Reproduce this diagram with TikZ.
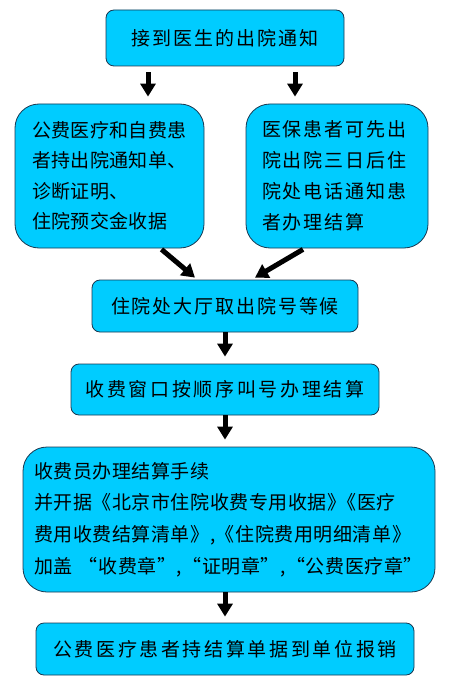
\documentclass[tikz,border=0pt]{standalone}
\usepackage{fontspec}
\usetikzlibrary{arrows.meta,calc}
\newfontfamily\cjkA[LetterSpace=10]{Noto Sans CJK SC}
\newfontfamily\cjkB[LetterSpace=2]{Noto Sans CJK SC}
\newfontfamily\cjkD[LetterSpace=3]{Noto Sans CJK SC}
\newfontfamily\cjkC[LetterSpace=14]{Noto Sans CJK SC}
\definecolor{boxfill}{RGB}{0,204,255}
\definecolor{boxline}{RGB}{25,55,80}
\tikzset{
  flowbox/.style={draw=boxline, fill=boxfill, line width=0.8pt, rounded corners=8pt, inner sep=0pt, text=black},
  bigbox/.style={flowbox, rounded corners=24pt, align=left, text width=#1},
  arr/.style={draw=black, line width=5pt, -{Triangle[length=13pt,width=15pt]}},
}
\begin{document}
\begin{tikzpicture}[x=1pt,y=-1pt]
\useasboundingbox (0,0) rectangle (448,687);
\node[flowbox, minimum width=238pt, minimum height=56pt, font=\cjkA\fontsize{19}{22}\selectfont] (n1) at (225,38) {接到医生的出院通知};
\node[bigbox=155pt, minimum width=189pt, minimum height=144pt, font=\cjkB\fontsize{19}{30.5}\selectfont] (n2L) at (109.5,176) {公费医疗和自费患\\者持出院通知单、\\诊断证明、\\住院预交金收据};
\node[bigbox=150pt, minimum width=182pt, minimum height=144pt, font=\cjkA\fontsize{19}{31}\selectfont] (n2R) at (337,176) {医保患者可先出\\院出院三日后住\\院处电话通知患\\者办理结算};
\node[flowbox, minimum width=266pt, minimum height=52pt, font=\cjkA\fontsize{19}{22}\selectfont] (n3) at (225,306) {住院处大厅取出院号等候};
\node[flowbox, minimum width=308pt, minimum height=51pt, font=\cjkC\fontsize{19}{22}\selectfont] (n4) at (225,389.5) {收费窗口按顺序叫号办理结算};
\node[bigbox=390pt, minimum width=412pt, minimum height=145pt, font=\cjkD\fontsize{19}{31.7}\selectfont] (n5) at (229,519.5) {收费员办理结算手续\\\mbox{并开据《北京市住院收费专用收据》\hspace{-9pt}《医疗}\\费用收费结算清单》,《住院费用明细清单》\\\mbox{加盖 “收费章”,“证明章”,“公费医疗章”}};
\node[flowbox, minimum width=378pt, minimum height=52pt, font=\cjkC\fontsize{19}{22}\selectfont] (n6) at (225,649) {公费医疗患者持结算单据到单位报销};
% connectors
\draw[arr] ($(n1.south)+(-77,6)$) -- ($(n2L.north)+(38.5,-7)$);
\draw[arr] ($(n1.south)+(70,6)$) -- ($(n2R.north)+(-42,-7)$);
\draw[arr] ($(n2L.south)+(52,1)$) -- ($(n3.north)+(-30,-2)$);
\draw[arr] ($(n2R.south)+(-34,1)$) -- ($(n3.north)+(30,-2)$);
\draw[arr] (n3.south) -- ($(n4.north)+(0,-7)$);
\draw[arr] (n4.south) -- ($(n4.south |- n5.north)+(0,-7)$);
\draw[arr] (n6.north |- n5.south) -- ($(n6.north)+(0,-6)$);
\end{tikzpicture}
\end{document}
